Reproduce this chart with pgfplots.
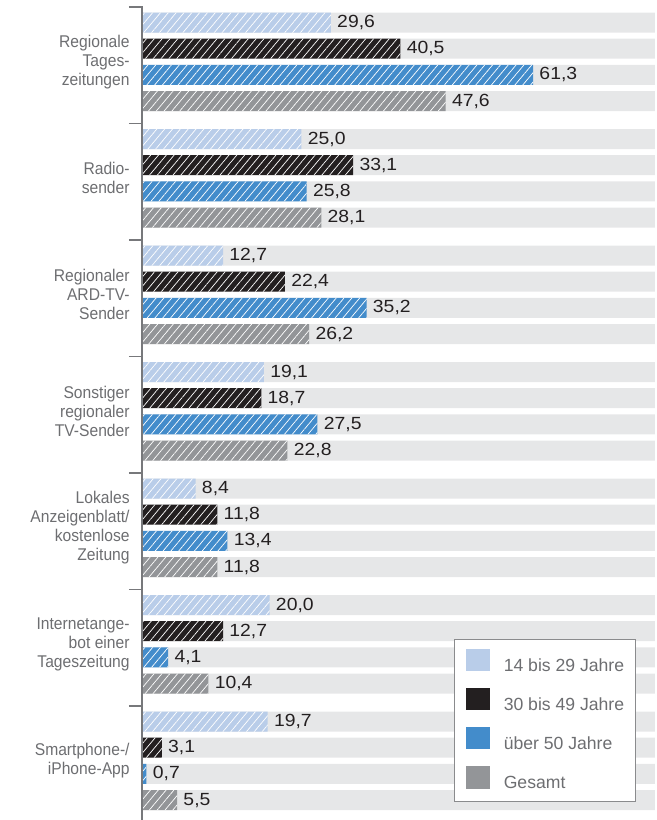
\documentclass[border=0pt]{standalone}
\usepackage{pgfplots}
\pgfplotsset{compat=1.18}
\usepackage{pgfplotstable}
\usepackage{fontspec}
\setmainfont{Liberation Sans}
\newfontfamily\labfont[FakeStretch=0.92]{Liberation Sans}
\newfontfamily\numfont[FakeStretch=1.1]{Liberation Sans}
\usetikzlibrary{patterns.meta}
\definecolor{lb}{HTML}{B9CDE9}
\definecolor{bk}{HTML}{231F20}
\definecolor{bl}{HTML}{438CCB}
\definecolor{gr}{HTML}{939598}
\definecolor{bgc}{HTML}{E6E7E8}
\definecolor{labc}{HTML}{6D6E71}
\definecolor{axc}{HTML}{77787B}
\definecolor{legc}{HTML}{8A8B8D}

\pgfplotstableread{
yc a b c d
61.8 29.6 40.5 61.3 47.6
178.3 25.0 33.1 25.8 28.1
294.8 12.7 22.4 35.2 26.2
411.3 19.1 18.7 27.5 22.8
527.8 8.4 11.8 13.4 11.8
644.3 20.0 12.7 4.1 10.4
760.8 19.7 3.1 0.7 5.5
}\data

\newcommand\lfont{\labfont\fontsize{8.5}{9.5}\selectfont}
\newcommand\vfont{\numfont\fontsize{8.8}{10}\selectfont}
\newcommand\gfont{\fontsize{8.8}{10}\selectfont}

\tikzset{hatch/.style={postaction={pattern={Lines[angle=50,distance=3pt,line width=0.35pt]}, pattern color=white}}}
\pgfplotsset{
  bgbar/.style={xbar, bar width=10pt, bar shift=0pt, fill=bgc, draw=none, forget plot},
  databar/.style={xbar, bar width=10pt, bar shift=0pt, fill=#1, draw=none, hatch, forget plot,
     point meta=x, nodes near coords,
     every node near coord/.append style={anchor=west, inner sep=0pt, xshift=3pt, font=\vfont, text=bk}},
}

\begin{document}
\begin{tikzpicture}
\begin{axis}[
 scale only axis, width=257.5pt, height=410pt,
 xmin=0, xmax=80.72, ymin=0, ymax=820, y dir=reverse,
 axis line style={draw=none}, xtick=\empty,
 ytick={61.8,178.3,294.8,411.3,527.8,644.3,760.8},
 yticklabels={{Regionale\\Tages-\\zeitungen},{Radio-\\sender},{Regionaler\\ARD-TV-\\Sender},{Sonstiger\\regionaler\\TV-Sender},{Lokales\\Anzeigenblatt/\\kostenlose\\Zeitung},{Internetange-\\bot einer\\Tageszeitung},{Smartphone-/\\iPhone-App}},
 major tick length=0pt, tick style={draw=none},
 yticklabel style={align=right, font=\lfont, text=labc, inner sep=0pt, xshift=-6pt},
 clip=false,
 /pgf/number format/fixed, /pgf/number format/fixed zerofill,
 /pgf/number format/precision=1, /pgf/number format/use comma,
 /pgf/number format/assume math mode=true,
 legend style={at={(axis cs:48.9,638.5)}, anchor=north west, draw=legc, line width=0.6pt,
   fill=white, inner xsep=5.5pt, inner ysep=5pt, nodes={inner sep=0pt},
   column sep=7pt, row sep=7pt, font=\gfont, text=labc, cells={anchor=west}},
 legend cell align=left,
]
\addplot[bgbar] table[x expr=80.4, y expr=\thisrow{yc}-39.3]{\data};
\addplot[bgbar] table[x expr=80.4, y expr=\thisrow{yc}-13.1]{\data};
\addplot[bgbar] table[x expr=80.4, y expr=\thisrow{yc}+13.1]{\data};
\addplot[bgbar] table[x expr=80.4, y expr=\thisrow{yc}+39.3]{\data};

\addplot[databar=lb] table[x=a, y expr=\thisrow{yc}-39.3]{\data};
\addplot[databar=bk] table[x=b, y expr=\thisrow{yc}-13.1]{\data};
\addplot[databar=bl] table[x=c, y expr=\thisrow{yc}+13.1]{\data};
\addplot[databar=gr] table[x=d, y expr=\thisrow{yc}+39.3]{\data};

\draw[axc, line width=0.75pt] (axis cs:-2.04,7) -- (axis cs:0,7) -- (axis cs:0,820);
\draw[axc, line width=0.75pt] (axis cs:-2.04,123.5) -- (axis cs:0,123.5);
\draw[axc, line width=0.75pt] (axis cs:-2.04,240) -- (axis cs:0,240);
\draw[axc, line width=0.75pt] (axis cs:-2.04,356.5) -- (axis cs:0,356.5);
\draw[axc, line width=0.75pt] (axis cs:-2.04,473) -- (axis cs:0,473);
\draw[axc, line width=0.75pt] (axis cs:-2.04,589.5) -- (axis cs:0,589.5);
\draw[axc, line width=0.75pt] (axis cs:-2.04,706) -- (axis cs:0,706);

\addlegendimage{legend image code/.code={\fill[lb] (0pt,-2.2pt) rectangle (11.5pt,8.3pt);}}
\addlegendentry{14 bis 29 Jahre}
\addlegendimage{legend image code/.code={\fill[bk] (0pt,-2.2pt) rectangle (11.5pt,8.3pt);}}
\addlegendentry{30 bis 49 Jahre}
\addlegendimage{legend image code/.code={\fill[bl] (0pt,-2.2pt) rectangle (11.5pt,8.3pt);}}
\addlegendentry{über 50 Jahre}
\addlegendimage{legend image code/.code={\fill[gr] (0pt,-2.2pt) rectangle (11.5pt,8.3pt);}}
\addlegendentry{Gesamt}

\coordinate (SW) at (axis description cs:0,0);
\coordinate (NE) at (axis description cs:1,1);
\end{axis}
\pgfresetboundingbox
\path ([xshift=-71pt]SW) rectangle (NE);
\end{tikzpicture}
\end{document}
